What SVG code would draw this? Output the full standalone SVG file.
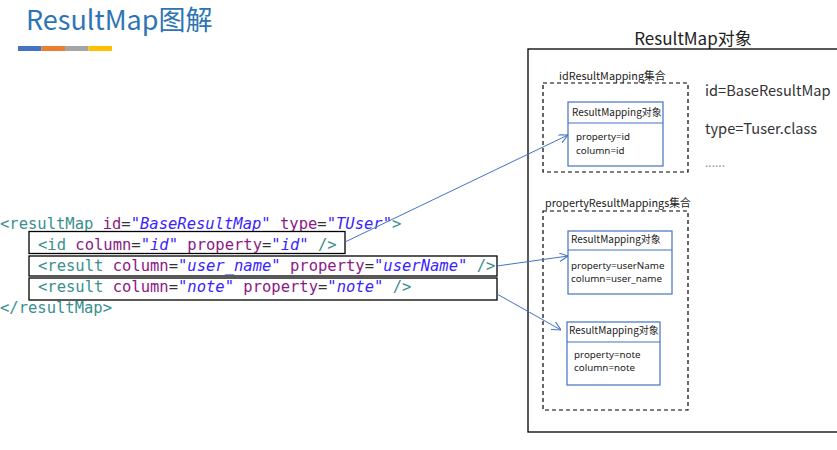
<svg xmlns="http://www.w3.org/2000/svg" width="837" height="450" viewBox="0 0 837 450">
<style>
.code{font-family:"DejaVu Sans Mono","Liberation Mono",monospace;font-size:15.5px;}
.tag{fill:#3a8f8f;}
.att{fill:#8b1a85;}
.eq{fill:#333;}
.val{fill:#3a1fff;font-style:italic;}
.cn{font-family:"Noto Sans CJK SC","Noto Sans",sans-serif;}
.lat{font-family:"Noto Sans","Noto Sans CJK SC",sans-serif;}
.lbl{font-size:10.8px;fill:#222;}
.sm{font-size:10px;fill:#222;}
.pr{font-size:9.8px;fill:#222;}
.obj{fill:#fff;stroke:#4472C4;stroke-width:1.2;}
.dash{fill:none;stroke:#000;stroke-width:1.2;stroke-dasharray:4,3;}
.hl{fill:none;stroke:#000;stroke-width:1.3;}
.conn{stroke:#4472C4;stroke-width:1;fill:none;marker-end:url(#arr);}
</style>
<defs>
<marker id="arr" viewBox="0 0 10 10" refX="10" refY="5" markerWidth="9" markerHeight="9" markerUnits="userSpaceOnUse" orient="auto">
<path d="M0,0 L10,5 L0,10" fill="none" stroke="#4472C4" stroke-width="1.2"/>
</marker>
</defs>
<rect width="837" height="450" fill="#fff"/>
<g id="title">
<text x="26" y="30" class="cn" font-size="27" fill="#2E74B5">ResultMap图解</text>
<rect x="18" y="46" width="23.5" height="5" fill="#4472C4"/>
<rect x="41.5" y="46" width="23.5" height="5" fill="#ED7D31"/>
<rect x="65" y="46" width="23.5" height="5" fill="#A5A5A5"/>
<rect x="88.5" y="46" width="23.5" height="5" fill="#FFC000"/>
</g>
<g id="code">
<text class="code" x="0" y="229"><tspan class="tag">&lt;resultMap</tspan> <tspan class="att">id</tspan><tspan class="eq">=</tspan><tspan class="val">"BaseResultMap"</tspan> <tspan class="att">type</tspan><tspan class="eq">=</tspan><tspan class="val">"TUser"</tspan><tspan class="tag">&gt;</tspan></text>
<g id="line-id">
<rect class="hl" x="29" y="231.5" width="316" height="22"/>
<text class="code" x="38" y="250"><tspan class="tag">&lt;id</tspan> <tspan class="att">column</tspan><tspan class="eq">=</tspan><tspan class="val">"id"</tspan> <tspan class="att">property</tspan><tspan class="eq">=</tspan><tspan class="val">"id"</tspan> <tspan class="tag">/&gt;</tspan></text>
</g>
<g id="line-username">
<rect class="hl" x="29" y="256" width="468" height="20"/>
<text class="code" x="38" y="271"><tspan class="tag">&lt;result</tspan> <tspan class="att">column</tspan><tspan class="eq">=</tspan><tspan class="val">"user_name"</tspan> <tspan class="att">property</tspan><tspan class="eq">=</tspan><tspan class="val">"userName"</tspan> <tspan class="tag">/&gt;</tspan></text>
</g>
<g id="line-note">
<rect class="hl" x="29" y="278" width="468" height="22"/>
<text class="code" x="38" y="292"><tspan class="tag">&lt;result</tspan> <tspan class="att">column</tspan><tspan class="eq">=</tspan><tspan class="val">"note"</tspan> <tspan class="att">property</tspan><tspan class="eq">=</tspan><tspan class="val">"note"</tspan> <tspan class="tag">/&gt;</tspan></text>
</g>
<text class="code" x="0" y="313"><tspan class="tag">&lt;/resultMap&gt;</tspan></text>
</g>
<g id="resultmap-object">
<text x="693" y="45" class="cn" font-size="17" fill="#222" text-anchor="middle">ResultMap对象</text>
<rect x="528" y="49" width="320" height="383" fill="none" stroke="#000" stroke-width="1.3"/>
<text x="705" y="96" class="cn" font-size="14.6" fill="#333">id=BaseResultMap</text>
<text x="705" y="134" class="cn" font-size="14.6" fill="#333">type=Tuser.class</text>
<text x="705" y="167" class="cn" font-size="12" fill="#999">......</text>
</g>
<g id="id-set">
<text x="559" y="80" class="cn lbl">idResultMapping集合</text>
<rect class="dash" x="543" y="83" width="145" height="89"/>
</g>
<g id="mapping-id">
<rect class="obj" x="568" y="102" width="95" height="64"/>
<line x1="568" y1="123" x2="663" y2="123" stroke="#4472C4" stroke-width="1.2"/>
<text x="572" y="116" class="cn sm">ResultMapping对象</text>
<text x="576" y="140" class="lat pr">property=id</text>
<text x="576" y="153.5" class="lat pr">column=id</text>
</g>
<g id="property-set">
<text x="545" y="207" class="cn lbl">propertyResultMappings集合</text>
<rect class="dash" x="543" y="211" width="145" height="199"/>
</g>
<g id="mapping-username">
<rect class="obj" x="568" y="231" width="104" height="63"/>
<line x1="568" y1="250" x2="672" y2="250" stroke="#4472C4" stroke-width="1.2"/>
<text x="571" y="243" class="cn sm">ResultMapping对象</text>
<text x="571" y="268.5" class="lat pr">property=userName</text>
<text x="571" y="282" class="lat pr">column=user_name</text>
</g>
<g id="mapping-note">
<rect class="obj" x="567" y="322" width="93" height="63"/>
<line x1="567" y1="342" x2="660" y2="342" stroke="#4472C4" stroke-width="1.2"/>
<text x="569" y="334" class="cn sm">ResultMapping对象</text>
<text x="574" y="357.5" class="lat pr">property=note</text>
<text x="574" y="371" class="lat pr">column=note</text>
</g>
<g id="connectors">
<line class="conn" x1="345" y1="242" x2="568" y2="135"/>
<line class="conn" x1="497" y1="266" x2="568" y2="256"/>
<line class="conn" x1="497" y1="294" x2="561" y2="330"/>
</g>
</svg>
